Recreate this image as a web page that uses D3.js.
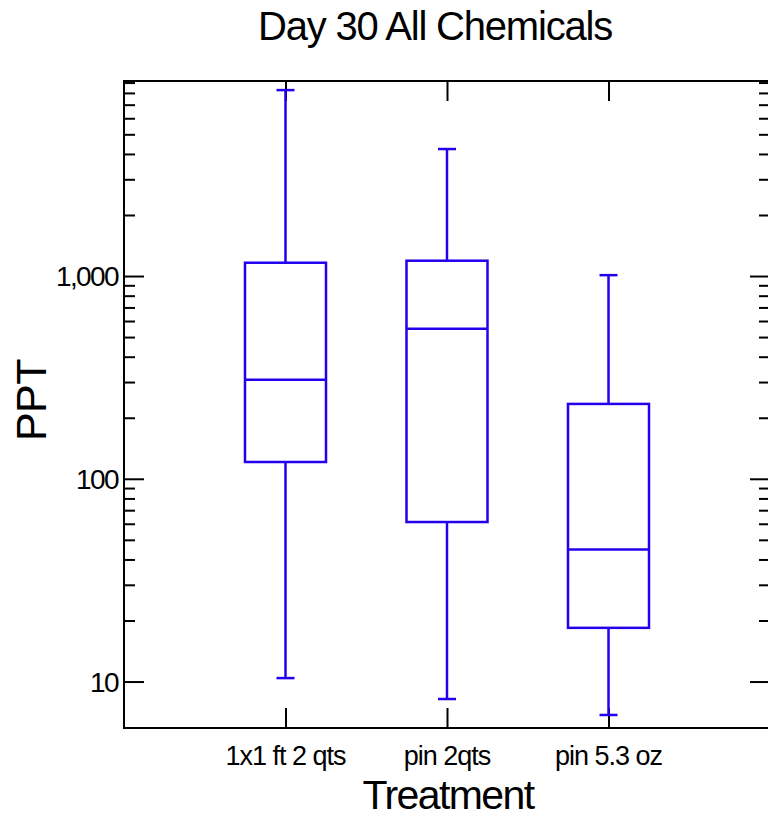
<!DOCTYPE html>
<html>
<head>
<meta charset="utf-8">
<script src="https://cdn.jsdelivr.net/npm/d3@7"></script>
<style>
  body { margin: 0; background: #fff; }
  text { font-family: "Liberation Sans", Arial, sans-serif; fill: #000; }
</style>
</head>
<body>
<div id="chart"></div>
<script>
const categories = ['1x1 ft 2 qts', 'pin 2qts', 'pin 5.3 oz'];
const whiskerHigh = [8260, 4230, 1010];
const q3 = [1163, 1190, 234];
const median = [308, 550, 44.8];
const q1 = [121, 61.2, 18.4];
const whiskerLow = [10.4, 8.2, 6.84];
const yTickValues = [10, 100, 1000];

const boxes = categories.map((c, i) => ({
  name: c, hi: whiskerHigh[i], q3: q3[i], med: median[i], q1: q1[i], lo: whiskerLow[i]
}));

const width = 768, height = 817;
const plotLeft = 124, plotRight = 770, plotTop = 81, plotBottom = 728;
const blue = '#2200ee';

const svg = d3.select('#chart').append('svg')
    .attr('width', width)
    .attr('height', height);

const x = d3.scaleLinear().domain([0, categories.length + 1]).range([plotLeft, plotRight]);
const y = d3.scaleLog().domain([5.9, 9160]).range([plotBottom, plotTop]);

// minor ticks 2..9 in each decade from 10 up
const minorTicks = [];
[10, 100, 1000].forEach(d => {
  for (let k = 2; k <= 9; k++) {
    if (d * k <= y.domain()[1]) minorTicks.push(d * k);
  }
});

const frame = svg.append('g');

// left axis
frame.append('g')
    .attr('transform', `translate(${plotLeft},0)`)
    .call(d3.axisRight(y).tickValues(yTickValues).tickSize(20).tickFormat(''))
    .call(g => g.select('.domain').remove());
frame.append('g')
    .attr('transform', `translate(${plotLeft},0)`)
    .call(d3.axisRight(y).tickValues(minorTicks).tickSize(11).tickFormat(''))
    .call(g => g.select('.domain').remove());

// right axis
frame.append('g')
    .attr('transform', `translate(${plotRight},0)`)
    .call(d3.axisLeft(y).tickValues(yTickValues).tickSize(20).tickFormat(''))
    .call(g => g.select('.domain').remove());
frame.append('g')
    .attr('transform', `translate(${plotRight},0)`)
    .call(d3.axisLeft(y).tickValues(minorTicks).tickSize(11).tickFormat(''))
    .call(g => g.select('.domain').remove());

// top and bottom ticks at categories
const catPos = categories.map((c, i) => i + 1);
frame.append('g')
    .attr('transform', `translate(0,${plotTop})`)
    .call(d3.axisBottom(x).tickValues(catPos).tickSize(20).tickFormat(''))
    .call(g => g.select('.domain').remove());
frame.append('g')
    .attr('transform', `translate(0,${plotBottom})`)
    .call(d3.axisTop(x).tickValues(catPos).tickSize(20).tickFormat(''))
    .call(g => g.select('.domain').remove());

frame.selectAll('.tick line').attr('stroke', '#000').attr('stroke-width', 2);

frame.append('rect')
    .attr('x', plotLeft).attr('y', plotTop)
    .attr('width', plotRight - plotLeft).attr('height', plotBottom - plotTop)
    .attr('fill', 'none')
    .attr('stroke', '#000')
    .attr('stroke-width', 2);

// y tick labels
svg.append('g').selectAll('text')
    .data(yTickValues)
    .enter().append('text')
    .attr('x', plotLeft - 6)
    .attr('y', d => y(d))
    .attr('dy', '0.36em')
    .attr('text-anchor', 'end')
    .style('font-size', '28px')
    .style('letter-spacing', '-1.6px')
    .text(d => d3.format(',')(d));

// x tick labels
svg.append('g').selectAll('text')
    .data(categories)
    .enter().append('text')
    .attr('x', (d, i) => x(i + 1))
    .attr('y', 765)
    .attr('text-anchor', 'middle')
    .style('font-size', '27px')
    .style('letter-spacing', '-1px')
    .text(d => d);

// boxes
const halfBox = 40.5, halfCap = 9;
const bx = svg.append('g')
    .selectAll('g')
    .data(boxes)
    .enter().append('g')
    .attr('stroke', blue)
    .attr('stroke-width', 2.5)
    .attr('fill', 'none');

bx.append('line')
    .attr('x1', (d, i) => x(i + 1)).attr('x2', (d, i) => x(i + 1))
    .attr('y1', d => y(d.hi)).attr('y2', d => y(d.q3));
bx.append('line')
    .attr('x1', (d, i) => x(i + 1)).attr('x2', (d, i) => x(i + 1))
    .attr('y1', d => y(d.q1)).attr('y2', d => y(d.lo));
bx.append('line')
    .attr('x1', (d, i) => x(i + 1) - halfCap).attr('x2', (d, i) => x(i + 1) + halfCap)
    .attr('y1', d => y(d.hi)).attr('y2', d => y(d.hi));
bx.append('line')
    .attr('x1', (d, i) => x(i + 1) - halfCap).attr('x2', (d, i) => x(i + 1) + halfCap)
    .attr('y1', d => y(d.lo)).attr('y2', d => y(d.lo));
bx.append('rect')
    .attr('x', (d, i) => x(i + 1) - halfBox)
    .attr('width', halfBox * 2)
    .attr('y', d => y(d.q3))
    .attr('height', d => y(d.q1) - y(d.q3));
bx.append('line')
    .attr('x1', (d, i) => x(i + 1) - halfBox).attr('x2', (d, i) => x(i + 1) + halfBox)
    .attr('y1', d => y(d.med)).attr('y2', d => y(d.med));

// title and axis labels
svg.append('text')
    .attr('x', 435)
    .attr('y', 40)
    .attr('text-anchor', 'middle')
    .style('font-size', '40px')
    .style('letter-spacing', '-1.2px')
    .text('Day 30 All Chemicals');

svg.append('text')
    .attr('x', 448)
    .attr('y', 809)
    .attr('text-anchor', 'middle')
    .style('font-size', '41px')
    .style('letter-spacing', '-1.6px')
    .text('Treatment');

svg.append('text')
    .attr('transform', 'translate(46,400) rotate(-90)')
    .attr('text-anchor', 'middle')
    .style('font-size', '43px')
    .style('letter-spacing', '-0.5px')
    .text('PPT');
</script>
</body>
</html>
